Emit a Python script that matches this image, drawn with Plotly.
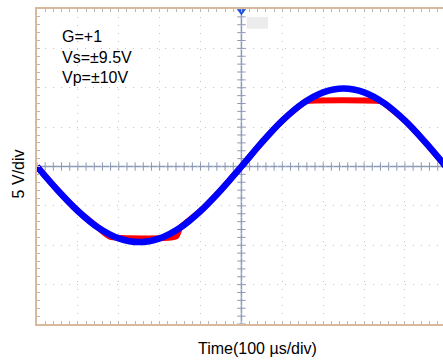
import numpy as np
import plotly.graph_objects as go

# Time in divisions (100 us/div), voltages in volts
t_in = [0, 0.5, 1, 1.5, 2, 2.5, 3, 3.5, 4, 4.5, 5,
        5.5, 6, 6.5, 7, 7.5, 8, 8.5, 9, 9.5, 10]
v_in = [0, -2.98, -5.65, -7.78, -9.13, -9.6, -9.13, -7.78, -5.65, -2.98, 0,
        3.06, 5.82, 8.01, 9.42, 9.9, 9.42, 8.01, 5.82, 3.06, 0]

t_out = [0, 0.5, 1, 1.5, 1.78, 3.4, 3.5, 4, 4.5, 5,
         5.5, 6, 6.5, 6.58, 8.4, 8.5, 9, 9.5, 10]
v_out = [0, -2.98, -5.65, -7.78, -8.9, -8.9, -7.78, -5.65, -2.98, 0,
         3.06, 5.82, 8.01, 8.3, 8.3, 8.01, 5.82, 3.06, 0]

labels = ["G=+1", "Vs=±9.5V", "Vp=±10V"]

FONT = "Liberation Sans, Arial, sans-serif"
TAN = "#d9b99c"
GRID = "#c4c4c4"
AXIS = "#8d9ab6"

fig = go.Figure()

# centre cross-hair tick marks
xt = np.round(np.arange(0, 10.01, 0.2), 2)
xt = xt[np.abs(xt - 5) > 1e-6]
fig.add_trace(go.Scatter(x=xt, y=[0] * len(xt), mode="markers",
                         marker=dict(symbol="line-ns", size=6,
                                     line=dict(color=AXIS, width=1)),
                         hoverinfo="skip", showlegend=False))
yt = np.arange(-20, 20.1, 1.0)
yt = yt[np.abs(yt) > 1e-6]
fig.add_trace(go.Scatter(x=[5] * len(yt), y=yt, mode="markers",
                         marker=dict(symbol="line-ew", size=6,
                                     line=dict(color=AXIS, width=1)),
                         hoverinfo="skip", showlegend=False))

# output (clipped) under input
fig.add_trace(go.Scatter(x=t_out, y=v_out, mode="lines",
                         line=dict(color="#ff0000", width=6, shape="spline", smoothing=0.5),
                         showlegend=False))
fig.add_trace(go.Scatter(x=t_in, y=v_in, mode="lines",
                         line=dict(color="#0000ff", width=6.5, shape="spline"),
                         showlegend=False))

# trigger marker
fig.add_trace(go.Scatter(x=[5], y=[19.7], mode="markers",
                         marker=dict(symbol="triangle-down", size=8, color="#1d4fe0"),
                         cliponaxis=False, showlegend=False, hoverinfo="skip"))

fig.add_shape(type="line", x0=0, x1=10, y0=0, y1=0, xref="x", yref="y",
              line=dict(color=AXIS, width=1.5), layer="below")
fig.add_shape(type="line", x0=5, x1=5, y0=-20, y1=20, xref="x", yref="y",
              line=dict(color=AXIS, width=1.5), layer="below")
fig.add_shape(type="rect", x0=5.13, x1=5.65, y0=17.5, y1=19.0, xref="x", yref="y",
              fillcolor="#ececec", line=dict(width=0), layer="below")

ys = [0.914, 0.845, 0.781]
for txt, yy in zip(labels, ys):
    fig.add_annotation(text=txt, xref="paper", yref="paper", x=0.057, y=yy,
                       xanchor="left", yanchor="middle", showarrow=False,
                       font=dict(family=FONT, size=16, color="#000"))

fig.add_annotation(text="5 V/div", xref="paper", yref="paper", x=-0.046, y=0.476,
                   textangle=-90, xanchor="center", yanchor="middle", showarrow=False,
                   font=dict(family=FONT, size=16, color="#000"))
fig.add_annotation(text="Time(100 µs/div)", xref="paper", yref="paper", x=0.542, y=-0.079,
                   xanchor="center", yanchor="middle", showarrow=False,
                   font=dict(family=FONT, size=16, color="#000"))

fig.update_layout(
    width=443, height=361,
    margin=dict(l=37, r=0, t=9, b=37),
    paper_bgcolor="white", plot_bgcolor="white",
    xaxis=dict(range=[0, 9.93], dtick=1, tick0=0, showticklabels=False,
               showgrid=True, gridcolor=GRID, griddash="1px,7px", gridwidth=1,
               zeroline=False, showline=True, linecolor=TAN, linewidth=2,
               mirror="ticks", ticks="inside", ticklen=3, tickcolor="#b8b8b8",
               minor=dict(dtick=0.2, ticks="inside", ticklen=3, tickcolor="#b8b8b8",
                          showgrid=False)),
    yaxis=dict(range=[-20, 20], dtick=5, tick0=0, showticklabels=False,
               showgrid=True, gridcolor=GRID, griddash="1px,7px", gridwidth=1,
               zeroline=False, showline=True, linecolor=TAN, linewidth=1.5,
               mirror=False, ticks="inside", ticklen=3, tickcolor="#b8b8b8",
               minor=dict(dtick=1, ticks="inside", ticklen=3, tickcolor="#b8b8b8",
                          showgrid=False)),
)

fig.write_html("out.html")
